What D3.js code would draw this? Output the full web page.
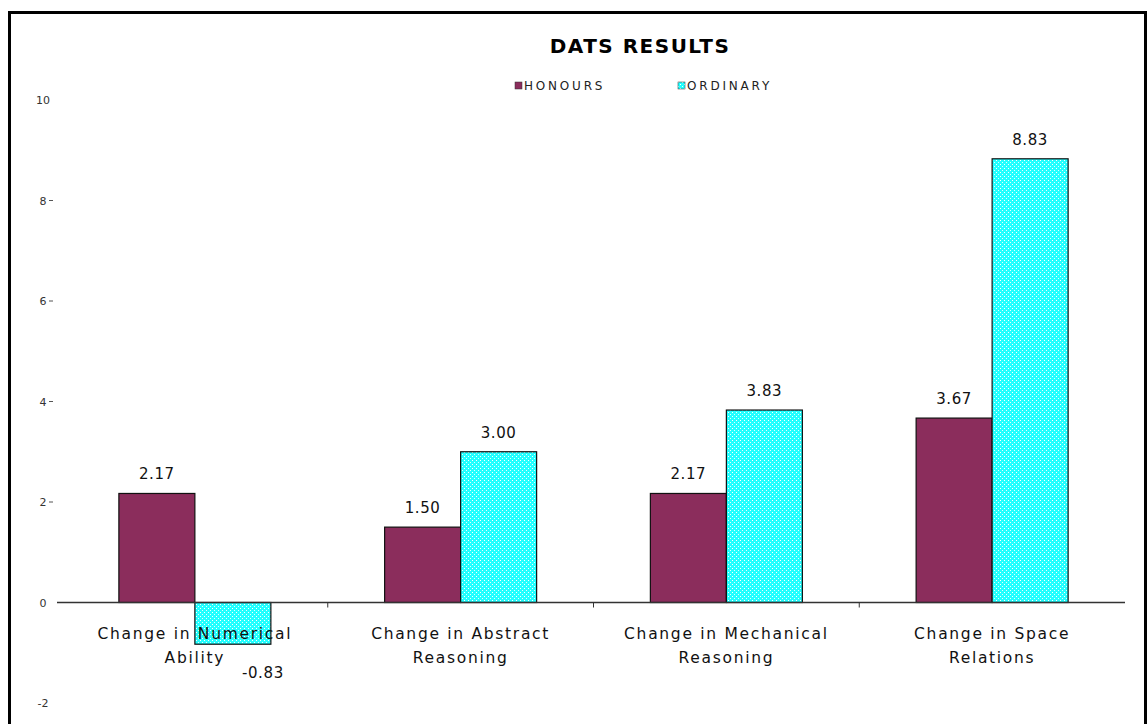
<!DOCTYPE html>
<html>
<head>
<meta charset="utf-8">
<script src="https://cdn.jsdelivr.net/npm/d3@7"></script>
<style>
  body { margin: 0; background: #fff; }
  svg { display: block; font-family: "DejaVu Sans", Verdana, sans-serif; }
</style>
</head>
<body>
<div id="chart"></div>
<script>
// chart data
var categories = [
  ["Change in Numerical", "Ability"],
  ["Change in Abstract", "Reasoning"],
  ["Change in Mechanical", "Reasoning"],
  ["Change in Space", "Relations"]
];
var seriesNames = ["HONOURS", "ORDINARY"];
var honours = [2.17, 1.50, 2.17, 3.67];
var ordinary = [-0.83, 3.00, 3.83, 8.83];
var yTicks = [-2, 0, 2, 4, 6, 8, 10];

var W = 1148, H = 724;
var svg = d3.select("#chart").append("svg").attr("width", W).attr("height", H);

// cyan dotted fill for ORDINARY
var defs = svg.append("defs");
var pat = defs.append("pattern").attr("id", "dots")
  .attr("width", 4).attr("height", 4).attr("patternUnits", "userSpaceOnUse");
pat.append("rect").attr("width", 4).attr("height", 4).attr("fill", "#22ffff");
pat.append("rect").attr("x", 0).attr("y", 0).attr("width", 1).attr("height", 1).attr("fill", "#ffffff");
pat.append("rect").attr("x", 2).attr("y", 2).attr("width", 1).attr("height", 1).attr("fill", "#e0ffff");

var colors = ["#8b2d5c", "url(#dots)"];

// frame
svg.append("rect").attr("x", 9.5).attr("y", 12.5).attr("width", 1136).attr("height", 720)
  .attr("fill", "none").attr("stroke", "#000").attr("stroke-width", 3);

var y = d3.scaleLinear().domain([-2, 10]).range([703, 100]);
var x0 = d3.scaleBand().domain(d3.range(categories.length)).range([62, 1125]);
var x1 = d3.scaleBand().domain([0, 1]).range([0, 152]);

// title + legend
svg.append("text").attr("x", 640).attr("y", 53).attr("text-anchor", "middle")
  .attr("font-size", 20).attr("font-weight", "bold").attr("letter-spacing", 1.5)
  .text("DATS RESULTS");

var legX = [515, 678];
seriesNames.forEach(function(n, i) {
  svg.append("rect").attr("x", legX[i]).attr("y", 82).attr("width", 7).attr("height", 7)
    .attr("fill", colors[i]).attr("stroke", "#333").attr("stroke-width", 0.5);
  svg.append("text").attr("x", legX[i] + 9).attr("y", 90).attr("font-size", 12)
    .attr("letter-spacing", 2.8).attr("fill", "#222").text(n);
});

// y tick labels
yTicks.forEach(function(t) {
  svg.append("text").attr("x", 43).attr("y", y(t) + 4).attr("text-anchor", "middle")
    .attr("font-size", 11).attr("fill", "#333").text(t);
  if (t > 0 && t < 10) {
    svg.append("line").attr("x1", 49).attr("x2", 53).attr("y1", y(t)).attr("y2", y(t))
      .attr("stroke", "#555").attr("stroke-width", 1);
  }
});

// bars
var data = [honours, ordinary];
data.forEach(function(vals, s) {
  svg.selectAll(".bar" + s).data(vals).enter().append("rect")
    .attr("x", function(d, i) { return x0(i) + x0.bandwidth() / 2 - 76 + x1(s); })
    .attr("y", function(d) { return y(Math.max(0, d)); })
    .attr("width", x1.bandwidth())
    .attr("height", function(d) { return Math.abs(y(d) - y(0)); })
    .attr("fill", colors[s]).attr("stroke", "#111").attr("stroke-width", 1.2);
});

// zero axis + category ticks
svg.append("line").attr("x1", 57).attr("x2", 1125).attr("y1", y(0)).attr("y2", y(0))
  .attr("stroke", "#333").attr("stroke-width", 1.5);
[1, 2, 3].forEach(function(i) {
  svg.append("line").attr("x1", x0(i)).attr("x2", x0(i)).attr("y1", y(0)).attr("y2", y(0) + 5)
    .attr("stroke", "#333");
});

// category labels
categories.forEach(function(lines, i) {
  var cx = x0(i) + x0.bandwidth() / 2;
  lines.forEach(function(l, j) {
    svg.append("text").attr("x", cx).attr("y", 639 + j * 24).attr("text-anchor", "middle")
      .attr("font-size", 15.5).attr("letter-spacing", 1.7).attr("fill", "#111").text(l);
  });
});

// value labels
data.forEach(function(vals, s) {
  vals.forEach(function(d, i) {
    var cx = x0(i) + x0.bandwidth() / 2 - 76 + x1(s) + x1.bandwidth() / 2;
    svg.append("text").attr("x", d < 0 ? cx + 30 : cx)
      .attr("y", d < 0 ? y(d) + 34 : y(d) - 14)
      .attr("text-anchor", "middle").attr("font-size", 15).attr("letter-spacing", 0.6)
      .attr("fill", "#111").text(d.toFixed(2));
  });
});
</script>
</body>
</html>
